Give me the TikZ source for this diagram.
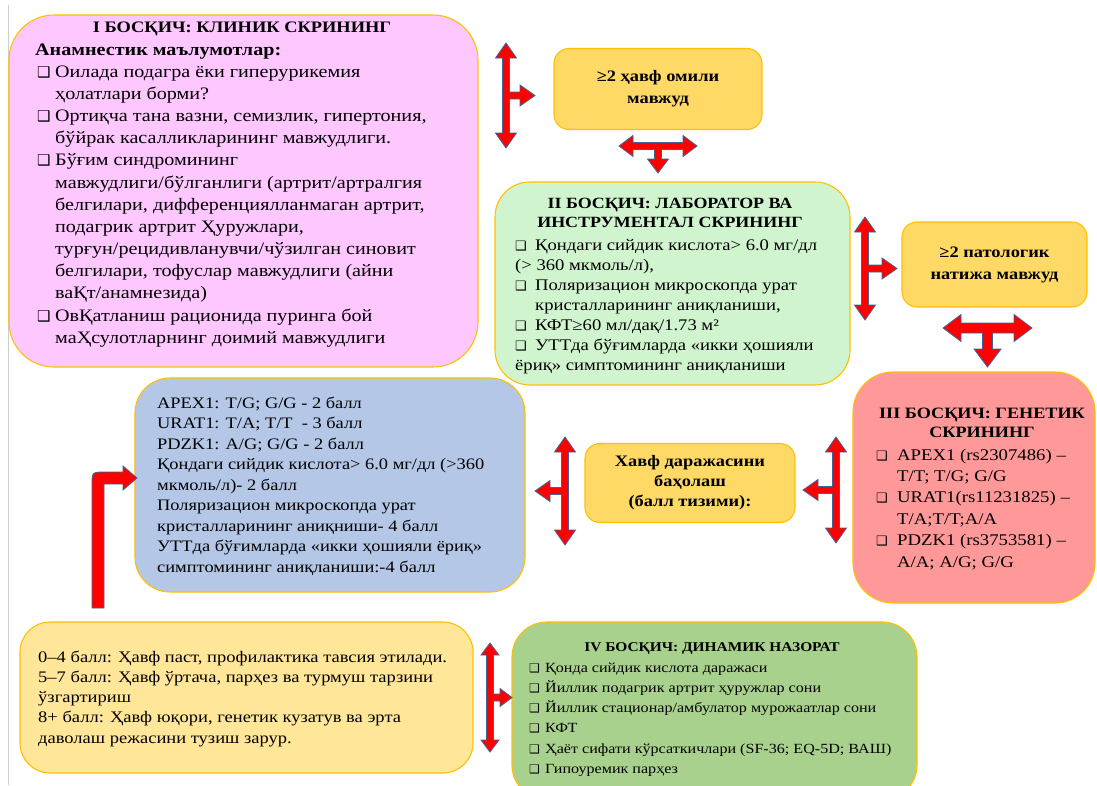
\documentclass[tikz,border=0pt]{standalone}
\usepackage{fontspec}
\setmainfont{Liberation Serif}[FakeStretch=1.15]
\newfontfamily\symf{DejaVu Sans}
\definecolor{goldline}{RGB}{255,192,0}
\definecolor{pinkf}{RGB}{255,199,255}
\definecolor{goldf}{RGB}{255,217,102}
\definecolor{greenf}{RGB}{208,244,206}
\definecolor{salmonf}{RGB}{255,153,153}
\definecolor{bluef}{RGB}{180,199,231}
\definecolor{yellowf}{RGB}{255,230,153}
\definecolor{olivef}{RGB}{169,209,142}
\definecolor{arrowline}{RGB}{65,100,150}
\definecolor{pageline}{RGB}{205,205,205}
\newcommand\bxA{\makebox[20pt][l]{\hspace{2pt}{\symf\fontsize{15}{15}\selectfont ❑}}}
\newcommand\bxB[1]{\makebox[#1][l]{{\symf\fontsize{13}{13}\selectfont ❑}}}
\newcommand\bxC[1]{\makebox[#1][l]{{\symf\fontsize{12}{12}\selectfont ❑}}}
% three-headed block arrow: center x, center y, rotation, half length, branch length, half shaft, half head, head length
\newcommand\tarrow[8]{%
\begin{scope}[shift={(#1,#2)},rotate=#3]
\draw[arr] (0,-#4) -- (#7,-#4+#8) -- (#6,-#4+#8) -- (#6,-#6) -- (#5-#8,-#6) -- (#5-#8,-#7) -- (#5,0)
 -- (#5-#8,#7) -- (#5-#8,#6) -- (#6,#6) -- (#6,#4-#8) -- (#7,#4-#8) -- (0,#4) -- (-#7,#4-#8)
 -- (-#6,#4-#8) -- (-#6,-#4+#8) -- (-#7,-#4+#8) -- cycle;
\end{scope}}
\tikzset{
 box/.style={draw=goldline, line width=1.1pt, inner sep=0pt},
 arr/.style={fill=red, draw=arrowline, line width=0.8pt, line join=miter},
 txt/.style={anchor=north west, inner sep=0pt, align=left},
 ttl/.style={anchor=north, inner sep=0pt, align=center},
}
\begin{document}
\begin{tikzpicture}[x=1pt,y=-1pt]
\useasboundingbox (0,0) rectangle (1097,785);
\clip (0,0) rectangle (1097,785);
\fill[white] (0,0) rectangle (1097,785);
\draw[pageline, line width=0.8pt] (8,5) -- (8,785);

% boxes
\node[box, fill=pinkf, rounded corners=45pt, minimum width=469pt, minimum height=352pt] (b1) at (243.5,191) {};
\node[box, fill=goldf, rounded corners=15pt, minimum width=208pt, minimum height=81pt, align=center,
 font=\bfseries\fontsize{16}{22}\selectfont] (g1) at (658,89) {≥2 ҳавф омили\\мавжуд};
\node[box, fill=greenf, rounded corners=35pt, minimum width=355pt, minimum height=203pt] (b2) at (672.5,283.5) {};
\node[box, fill=goldf, rounded corners=15pt, minimum width=185pt, minimum height=85pt, align=center,
 font=\bfseries\fontsize{16}{22}\selectfont] (g2) at (994.5,264.5) {≥2 патологик\\натижа мавжуд};
\node[box, fill=salmonf, rounded corners=40pt, minimum width=242pt, minimum height=231pt] (b3) at (974,487.5) {};
\node[box, fill=goldf, rounded corners=15pt, minimum width=210pt, minimum height=79pt, align=center,
 font=\bfseries\fontsize{16}{20}\selectfont] (g3) at (690,483) {Хавф даражасини\\баҳолаш\\(балл тизими):};
\node[box, fill=bluef, rounded corners=35pt, minimum width=390pt, minimum height=214pt] (bl) at (330,485) {};
\node[box, fill=yellowf, rounded corners=30pt, minimum width=453pt, minimum height=151pt] (ye) at (246.5,697.5) {};
\node[box, fill=olivef, rounded corners=35pt, minimum width=405pt, minimum height=178pt] (b4) at (714.5,711) {};

% texts box I
\node[ttl, font=\bfseries\fontsize{16}{22}\selectfont] (t1) at (242,16.6) {\strut I БОСҚИЧ: КЛИНИК СКРИНИНГ};
\node[txt, font=\fontsize{17.5}{22.15}\selectfont] (x1) at (35,39.5) {\strut\textbf{Анамнестик маълумотлар:}\\
\bxA Оилада подагра ёки гиперурикемия\\
\hspace*{20pt}ҳолатлари борми?\\
\bxA Ортиқча тана вазни, семизлик, гипертония,\\
\hspace*{20pt}бўйрак касалликларининг мавжудлиги.\\
\bxA Бўғим синдромининг\\
\hspace*{20pt}мавжудлиги/бўлганлиги (артрит/артралгия\\
\hspace*{20pt}белгилари, дифференциялланмаган артрит,\\
\hspace*{20pt}подагрик артрит Ҳуружлари,\\
\hspace*{20pt}турғун/рецидивланувчи/чўзилган синовит\\
\hspace*{20pt}белгилари, тофуслар мавжудлиги (айни\\
\hspace*{20pt}ваҚт/анамнезида)\\
\bxA ОвҚатланиш рационида пуринга бой\\
\hspace*{20pt}маҲсулотларнинг доимий мавжудлиги};

% box II
\node[ttl, font=\bfseries\fontsize{15.6}{19.5}\selectfont] (t2) at (670,194.4) {\strut II БОСҚИЧ: ЛАБОРАТОР ВА\\ИНСТРУМЕНТАЛ СКРИНИНГ};
\node[txt, font=\fontsize{16.2}{20}\selectfont] (x2) at (515,236) {\strut\bxB{20pt}Қондаги сийдик кислота> 6.0 мг/дл\\
(> 360 мкмоль/л),\\
\bxB{20pt}Поляризацион микроскопда урат\\
\hspace*{20pt}кристалларининг аниқланиши,\\
\bxB{20pt}КФТ≥60 мл/дақ/1.73 м²\\
\bxB{20pt}УТТда бўғимларда «икки ҳошияли\\
ёриқ» симптомининг аниқланиши};

% box III
\node[ttl, font=\bfseries\fontsize{15.8}{19.5}\selectfont] (t3) at (982,404.4) {\strut III БОСҚИЧ: ГЕНЕТИК\\СКРИНИНГ};
\node[txt, font=\fontsize{16.3}{21.4}\selectfont] (x3) at (876,445) {\strut\bxB{21pt}APEX1 (rs2307486) –\\
\hspace*{21pt}T/T; T/G; G/G\\
\bxB{21pt}URAT1(rs11231825) –\\
\hspace*{21pt}T/A;T/T;A/A\\
\bxB{21pt}PDZK1 (rs3753581) –\\
\hspace*{21pt}A/A; A/G; G/G};

% blue box
\node[txt, font=\fontsize{16}{20.5}\selectfont] (x4) at (157,393.6) {\strut APEX1: T/G; G/G - 2 балл\\
URAT1: T/A; T/T\ \ - 3 балл\\
PDZK1: A/G; G/G - 2 балл\\
Қондаги сийдик кислота> 6.0 мг/дл (>360\\
мкмоль/л)- 2 балл\\
Поляризацион микроскопда урат\\
кристалларининг аниқниши- 4 балл\\
УТТда бўғимларда «икки ҳошияли ёриқ»\\
симптомининг аниқланиши:-4 балл};

% yellow box
\node[txt, font=\fontsize{16.1}{20.25}\selectfont] (x5) at (38,647.8) {\strut 0–4 балл: Ҳавф паст, профилактика тавсия этилади.\\
5–7 балл: Ҳавф ўртача, парҳез ва турмуш тарзини\\
ўзгартириш\\
8+ балл: Ҳавф юқори, генетик кузатув ва эрта\\
даволаш режасини тузиш зарур.};

% box IV
\node[ttl, font=\bfseries\fontsize{13.4}{20}\selectfont] (t6) at (712,637) {\strut IV БОСҚИЧ: ДИНАМИК НАЗОРАТ};
\node[txt, font=\fontsize{14}{20.2}\selectfont] (x6) at (529,657.9) {\strut\bxC{16pt}Қонда сийдик кислота даражаси\\
\bxC{16pt}Йиллик подагрик артрит ҳуружлар сони\\
\bxC{16pt}Йиллик стационар/амбулатор мурожаатлар сони\\
\bxC{16pt}КФТ\\
\bxC{16pt}Ҳаёт сифати кўрсаткичлари (SF-36; EQ-5D; ВАШ)\\
\bxC{16pt}Гипоуремик парҳез};

% arrows
\tarrow{506}{95.5}{0}{52.5}{29}{3.5}{10.5}{15}
\tarrow{658}{146}{-90}{39}{27}{3.5}{10.5}{14}
\tarrow{865}{268.5}{0}{51.5}{32}{3.5}{10.5}{15}
\tarrow{987.5}{328}{-90}{44.5}{39}{5}{13.5}{18}
\tarrow{836}{490}{180}{53}{33}{3.5}{10.5}{15}
\tarrow{565}{491}{180}{54}{30}{3.5}{10.5}{15}
\tarrow{490}{697.5}{0}{54.5}{22}{3.5}{9}{12}
% bent arrow
\draw[arr] (92,608) -- (92,485) .. controls (92,472) .. (105,472) -- (123,472) -- (123,466) -- (137,478)
 -- (123,490) -- (123,484) -- (104,484) -- (104,608) -- cycle;
\end{tikzpicture}
\end{document}
